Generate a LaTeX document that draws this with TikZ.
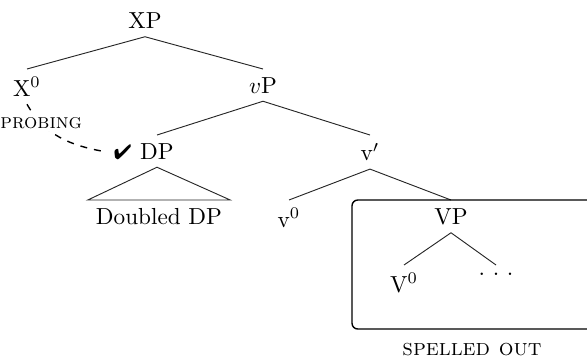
\documentclass[tikz,border=0pt]{standalone}
\usepackage{pifont}
\usetikzlibrary{positioning,fit}

\begin{document}
\begin{tikzpicture}[
  x=0.431pt, y=-0.431pt,
  cat/.style={
    anchor=north
  },
  branch/.style={
    draw=black!85,
    thin
  },
  probe/.style={
    dashed,
    semithick
  },
  spellbox/.style={
    draw,
    semithick,
    rounded corners=2.5pt,
    inner sep=0pt
  }]
  \useasboundingbox (0,0) rectangle (587,360);
  % the tree
  \node[cat] (xp) at (145,4.5) {XP};
  \node[cat] (x0) at (27,69) {X$^0$};
  \node[cat] (vp) at (263,69) {$v$P};
  \node[cat] (dp) at (157,135) {DP};
  \node[base left=-3.3pt of dp] (chk) {\small\ding{52}};
  \node[cat] (vbar) at (370,135) {v$'$};
  \node[cat] (ddp) at (159,200) {Doubled DP};
  \node[cat] (v0) at (289,200) {v$^0$};
  \node[cat] (bigvp) at (451,200) {VP};
  \node[cat] (bigv0) at (404,265) {V$^0$};
  \node[cat] (dots) at (496,265) {.\ .\ .};
  \draw[branch] (xp.south) -- (x0.north);
  \draw[branch] (xp.south) -- (vp.north);
  \draw[branch] (vp.south) -- (dp.north);
  \draw[branch] (vp.south) -- (vbar.north);
  \draw[branch] (dp.south) -- (ddp.north west) -- (ddp.north east) -- cycle;
  \draw[branch] (vbar.south) -- (v0.north);
  \draw[branch] (vbar.south) -- (bigvp.north);
  \draw[branch] (bigvp.south) -- (bigv0.north);
  \draw[branch] (bigvp.south) -- (dots.north);
  % probing
  \draw[probe] (x0.south) to[out=-60,in=170]
    node[pos=0.24, fill=white, inner sep=1pt] (probing) {\small\textsc{probing}}
    (chk.west);
  % spelled out box
  \coordinate (boxtl) at (352,200);
  \coordinate (boxbr) at (600,329);
  \node[spellbox, fit=(boxtl)(boxbr)] (spellout) {};
  \node[anchor=base] (spelled) at (472,355) {\textsc{spelled out}};
\end{tikzpicture}
\end{document}
